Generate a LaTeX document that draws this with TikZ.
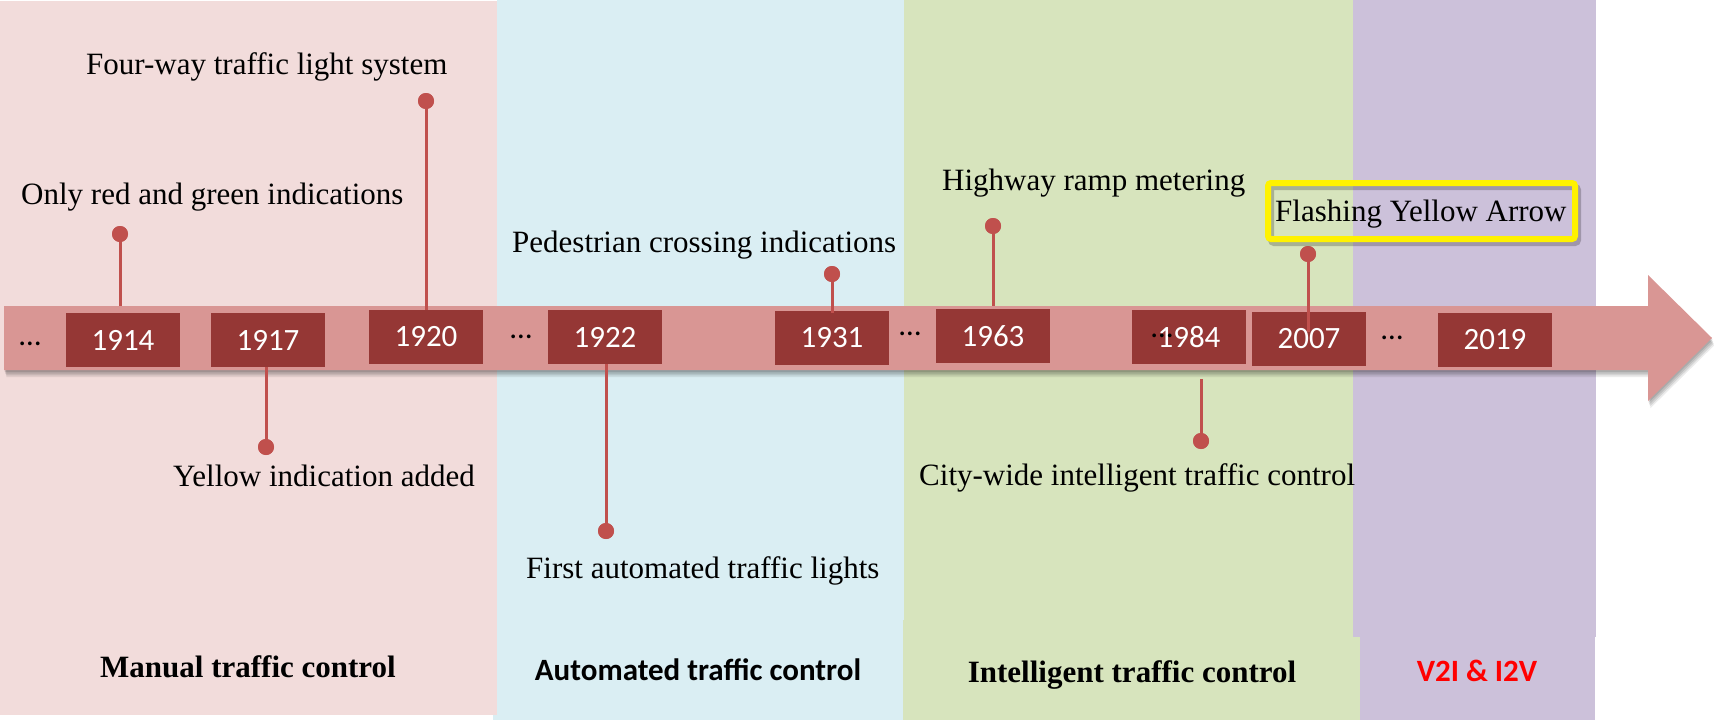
\documentclass[tikz,border=0pt]{standalone}
\usepackage{fontspec}
\setmainfont{Liberation Serif}
\newfontfamily\calibri{Carlito}
\definecolor{bandpink}{HTML}{F2DCDB}
\definecolor{bandblue}{HTML}{DAEEF3}
\definecolor{bandgreen}{HTML}{D7E4BD}
\definecolor{bandpurple}{HTML}{CCC1DA}
\definecolor{barrose}{HTML}{D99694}
\definecolor{yearred}{HTML}{953735}
\definecolor{stemred}{HTML}{C0504D}
\begin{document}
\begin{tikzpicture}[x=1pt,y=-1pt,
  yearbox/.style={fill=yearred, minimum width=114pt, minimum height=54pt, inner sep=0pt,
    text=white, font=\calibri\fontsize{31}{37}\selectfont},
  dotmark/.style={circle, fill=stemred, minimum size=16pt, inner sep=0pt},
  stem/.style={draw=stemred, line width=3pt},
  event/.style={font=\fontsize{31}{37}\selectfont, inner sep=0pt, anchor=base west},
  ellip/.style={font=\calibri\fontsize{31}{37}\selectfont, inner sep=0pt, anchor=base},
  phase/.style={font=\bfseries\fontsize{31}{37}\selectfont, inner sep=0pt, anchor=base},
  phasesans/.style={font=\calibri\bfseries\fontsize{31}{37}\selectfont, inner sep=0pt, anchor=base},
  arrowbody/.style={}
]
\useasboundingbox (0,0) rectangle (1714,720);

% era bands and their label panels
\fill[bandblue]   (493,615) rectangle (903,720);
\fill[bandpink]   (0,1) rectangle (497,715);
\fill[bandblue]   (497,0) rectangle (904,620);
\fill[bandgreen]  (904,0) rectangle (1353,620);
\fill[bandgreen]  (903,620) rectangle (1360,720);
\fill[bandpurple] (1353,0) rectangle (1596,637);
\fill[bandpurple] (1360,620) rectangle (1595,720);

% era names
\node[phase]     (manual) at (248,677) {Manual traffic control};
\node[phasesans] (auto)   at (698,680) {Automated traffic control};
\node[phase]     (intel)  at (1132,682) {Intelligent traffic control};
\node[phasesans, text={rgb,255:red,255;green,0;blue,0}] (v2i) at (1477,681) {V2I \& I2V};

% event descriptions
\node[event] (t1920) at (86,74)   {Four-way traffic light system};
\node[event] (t1914) at (21,204)  {Only red and green indications};
\node[event] (t1917) at (173,486) {Yellow indication added};
\node[event] (t1931) at (512,252) {Pedestrian crossing indications};
\node[event] (t1922) at (526,578) {First automated traffic lights};
\node[event] (t1963) at (942,190) {Highway ramp metering};
\node[event] (t1984) at (919,485) {City-wide intelligent traffic control};

% soft shadow under the time arrow
\foreach \s/\o in {1/0.10, 2/0.10, 3/0.10, 4/0.08}
  \fill[black, opacity=\o, shift={(\s*0.6,\s*1.8)}]
    (4,306) -- (1648,306) -- (1648,275) -- (1712,338) -- (1648,401) -- (1648,370) -- (4,370) -- cycle;
% time arrow
\fill[barrose] (4,306) -- (1648,306) -- (1648,275) -- (1712,338) -- (1648,401) -- (1648,370) -- (4,370) -- cycle;

% years on the arrow
\node[yearbox] (y1914) at (123,340) {1914};
\node[yearbox] (y1917) at (268,340) {1917};
\node[yearbox] (y1920) at (426,337) {1920};
\node[yearbox] (y1922) at (605,337) {1922};
\node[yearbox] (y1931) at (832,338) {1931};
\node[yearbox] (y1963) at (993,336) {1963};
\node[yearbox] (y1984) at (1189,337) {1984};
\node[yearbox] (y2007) at (1309,339) {2007};
\node[yearbox] (y2019) at (1495,340) {2019};

% gaps in the timeline
\node[ellip] (g1) at (30,345)   {…};
\node[ellip] (g2) at (521,338)  {…};
\node[ellip] (g3) at (910,335)  {…};
\node[ellip] (g4) at (1162,337) {…};
\node[ellip] (g5) at (1392,339) {…};

% pins
\node[dotmark] (d1914) at (120,234) {};
\node[dotmark] (d1917) at (266,447) {};
\node[dotmark] (d1920) at (426,101) {};
\node[dotmark] (d1922) at (606,531) {};
\node[dotmark] (d1931) at (832,274) {};
\node[dotmark] (d1963) at (993,226) {};
\node[dotmark] (d1984) at (1201,441) {};
\node[dotmark] (d2007) at (1308,254) {};

\coordinate (s1914) at (120,306);
\coordinate (s1917) at (266,367);
\coordinate (s1920) at (426,310);
\coordinate (s1922) at (606,364);
\coordinate (s1931) at (832,313);
\coordinate (s1963) at (993,306);
\coordinate (s1984) at (1201,379);
\coordinate (s2007) at (1308,332);

\foreach \y in {1914,1917,1920,1922,1931,1963,1984,2007}
  \draw[stem] (d\y.center) -- (s\y);
\foreach \y in {1914,1917,1920,1922,1931,1963,1984,2007}
  \node[dotmark] at (d\y) {};

% highlighted event
\draw[line width=6pt, black, opacity=0.22, rounded corners=3pt] (1271,187) rectangle (1578,243);
\draw[line width=6pt, yellow, rounded corners=3pt] (1268,183) rectangle (1575,239);
\node[event] (t2007) at (1275,221) {Flashing Yellow Arrow};
\end{tikzpicture}
\end{document}
